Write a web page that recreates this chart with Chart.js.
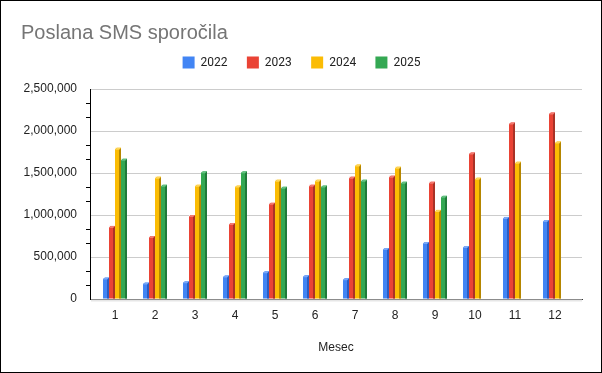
<!DOCTYPE html>
<html><head><meta charset="utf-8">
<script src="https://cdn.jsdelivr.net/npm/chart.js@4"></script>
<style>
html,body{margin:0;padding:0;background:#fff;}
#wrap{width:602px;height:373px;box-sizing:border-box;border:1px solid #000;background:#fff;}
canvas{display:block;}
</style></head><body>
<div id="wrap"><canvas id="c" width="600" height="371"></canvas></div>
<script>
const categories = ['1','2','3','4','5','6','7','8','9','10','11','12'];
const seriesNames = ['2022','2023','2024','2025'];
const values2022 = [255000, 195000, 210000, 280000, 330000, 283000, 248000, 606000, 678000, 630000, 977000, 940000];
const values2023 = [870000, 750000, 1000000, 905000, 1145000, 1360000, 1456000, 1468000, 1396000, 1743000, 2100000, 2220000];
const values2024 = [1800000, 1456000, 1360000, 1350000, 1420000, 1420000, 1600000, 1575000, 1061000, 1444000, 1635000, 1874000];
const values2025 = [1670000, 1360000, 1520000, 1520000, 1336000, 1350000, 1420000, 1396000, 1228000, null, null, null];
const yTickValues = [0, 500000, 1000000, 1500000, 2000000, 2500000];
const xTitle = 'Mesec';
const chartTitle = 'Poslana SMS sporočila';

const colors = ['#4285F4', '#EA4335', '#FBBC04', '#34A853'];
const shades = [
  {dark:'#2c5cc0', light:'#7aa7f7'},
  {dark:'#a93226', light:'#f27a70'},
  {dark:'#b58600', light:'#fdd65c'},
  {dark:'#1f7a3a', light:'#66c183'}
];
const allSeries = [values2022, values2023, values2024, values2025];

Chart.defaults.font.family = "'Liberation Sans', Arial, sans-serif";
Chart.defaults.font.size = 12;
Chart.defaults.color = '#222';

const bar3d = {
  id: 'bar3d',
  beforeInit(chart) {
    const lg = chart.legend;
    if (lg) {
      const fit = lg.fit;
      lg.fit = function() { fit.call(this); this.height += 10.5; };
    }
  },
  beforeDatasetsDraw(chart) {
    const {ctx, chartArea} = chart;
    ctx.save();
    ctx.fillStyle = '#e6e6e6';
    ctx.fillRect(chartArea.left + 1, chartArea.bottom + 0.5, chartArea.right - chartArea.left - 1, 2);
    ctx.restore();
  },
  afterDatasetsDraw(chart) {
    const ctx = chart.ctx;
    chart.data.datasets.forEach((ds, di) => {
      const meta = chart.getDatasetMeta(di);
      const sh = shades[di];
      meta.data.forEach((bar, i) => {
        if (ds.data[i] == null) return;
        const {x, y, base, width} = bar.getProps(['x','y','base','width'], true);
        const L = x - width / 2, R = x + width / 2, d = 2;
        ctx.save();
        ctx.fillStyle = sh.dark;
        ctx.beginPath(); ctx.moveTo(R - d, y + d); ctx.lineTo(R, y); ctx.lineTo(R, base); ctx.lineTo(R - d, base); ctx.closePath(); ctx.fill();
        ctx.fillStyle = sh.light;
        ctx.beginPath(); ctx.moveTo(L, y + d); ctx.lineTo(L + d, y); ctx.lineTo(R, y); ctx.lineTo(R - d, y + d); ctx.closePath(); ctx.fill();
        ctx.fillStyle = '#fff';
        ctx.beginPath(); ctx.moveTo(L, y - 0.5); ctx.lineTo(L + d, y - 0.5); ctx.lineTo(L, y + d - 0.5); ctx.closePath(); ctx.fill();
        ctx.restore();
      });
    });
  }
};

new Chart(document.getElementById('c'), {
  type: 'bar',
  data: {
    labels: categories,
    datasets: seriesNames.map((n, i) => ({
      label: n,
      data: allSeries[i],
      backgroundColor: colors[i],
      borderWidth: 0,
      barPercentage: 1,
      categoryPercentage: 0.6
    }))
  },
  options: {
    responsive: false,
    animation: false,
    layout: { padding: { left: 20, right: 19, top: 0, bottom: 16.8 } },
    plugins: {
      title: {
        display: true, text: chartTitle, align: 'start', color: '#757575',
        font: { size: 20, weight: 'normal' },
        padding: { top: 20.5, bottom: -8.3 }
      },
      legend: {
        position: 'top', align: 'center',
        labels: { boxWidth: 12, boxHeight: 12, padding: 19.3, color: '#222', font: { family: 'Roboto', size: 12 } }
      },
      tooltip: { enabled: false }
    },
    scales: {
      x: {
        type: 'linear', min: 0.375, max: 12.675, offset: false,
        afterBuildTicks: s => { s.ticks = categories.map((c, i) => ({ value: i + 1 })); },
        ticks: { callback: v => categories[v - 1], autoSkip: false, maxRotation: 0, padding: 9, color: '#222' },
        grid: { display: false, drawTicks: false },
        border: { display: true, color: '#333', width: 1 },
        title: { display: true, text: xTitle, color: '#222', font: { size: 12 }, padding: { top: 9.4, bottom: 0 } }
      },
      y: {
        min: 0, max: 2500000,
        afterBuildTicks: s => {
          const t = [];
          yTickValues.forEach((v, i) => {
            t.push({ value: v, major: true });
            if (i < yTickValues.length - 1) {
              const step = yTickValues[i + 1] - v;
              t.push({ value: v + step / 3, major: false });
              t.push({ value: v + 2 * step / 3, major: false });
            }
          });
          s.ticks = t;
        },
        afterFit: s => { s.width = 69; },
        ticks: {
          autoSkip: false, padding: 9, color: '#222',
          callback: (v, i, t) => t[i].major ? Math.round(v).toLocaleString('en-US') : ''
        },
        grid: {
          color: c => (c.tick && c.tick.major) ? '#cccccc' : 'rgba(0,0,0,0)',
          tickColor: c => (c.tick && c.tick.major) ? 'rgba(0,0,0,0)' : '#000',
          tickLength: 4, drawTicks: true, lineWidth: 1
        },
        border: { display: true, color: '#000', width: 1 }
      }
    }
  },
  plugins: [bar3d]
});
</script>
</body></html>
